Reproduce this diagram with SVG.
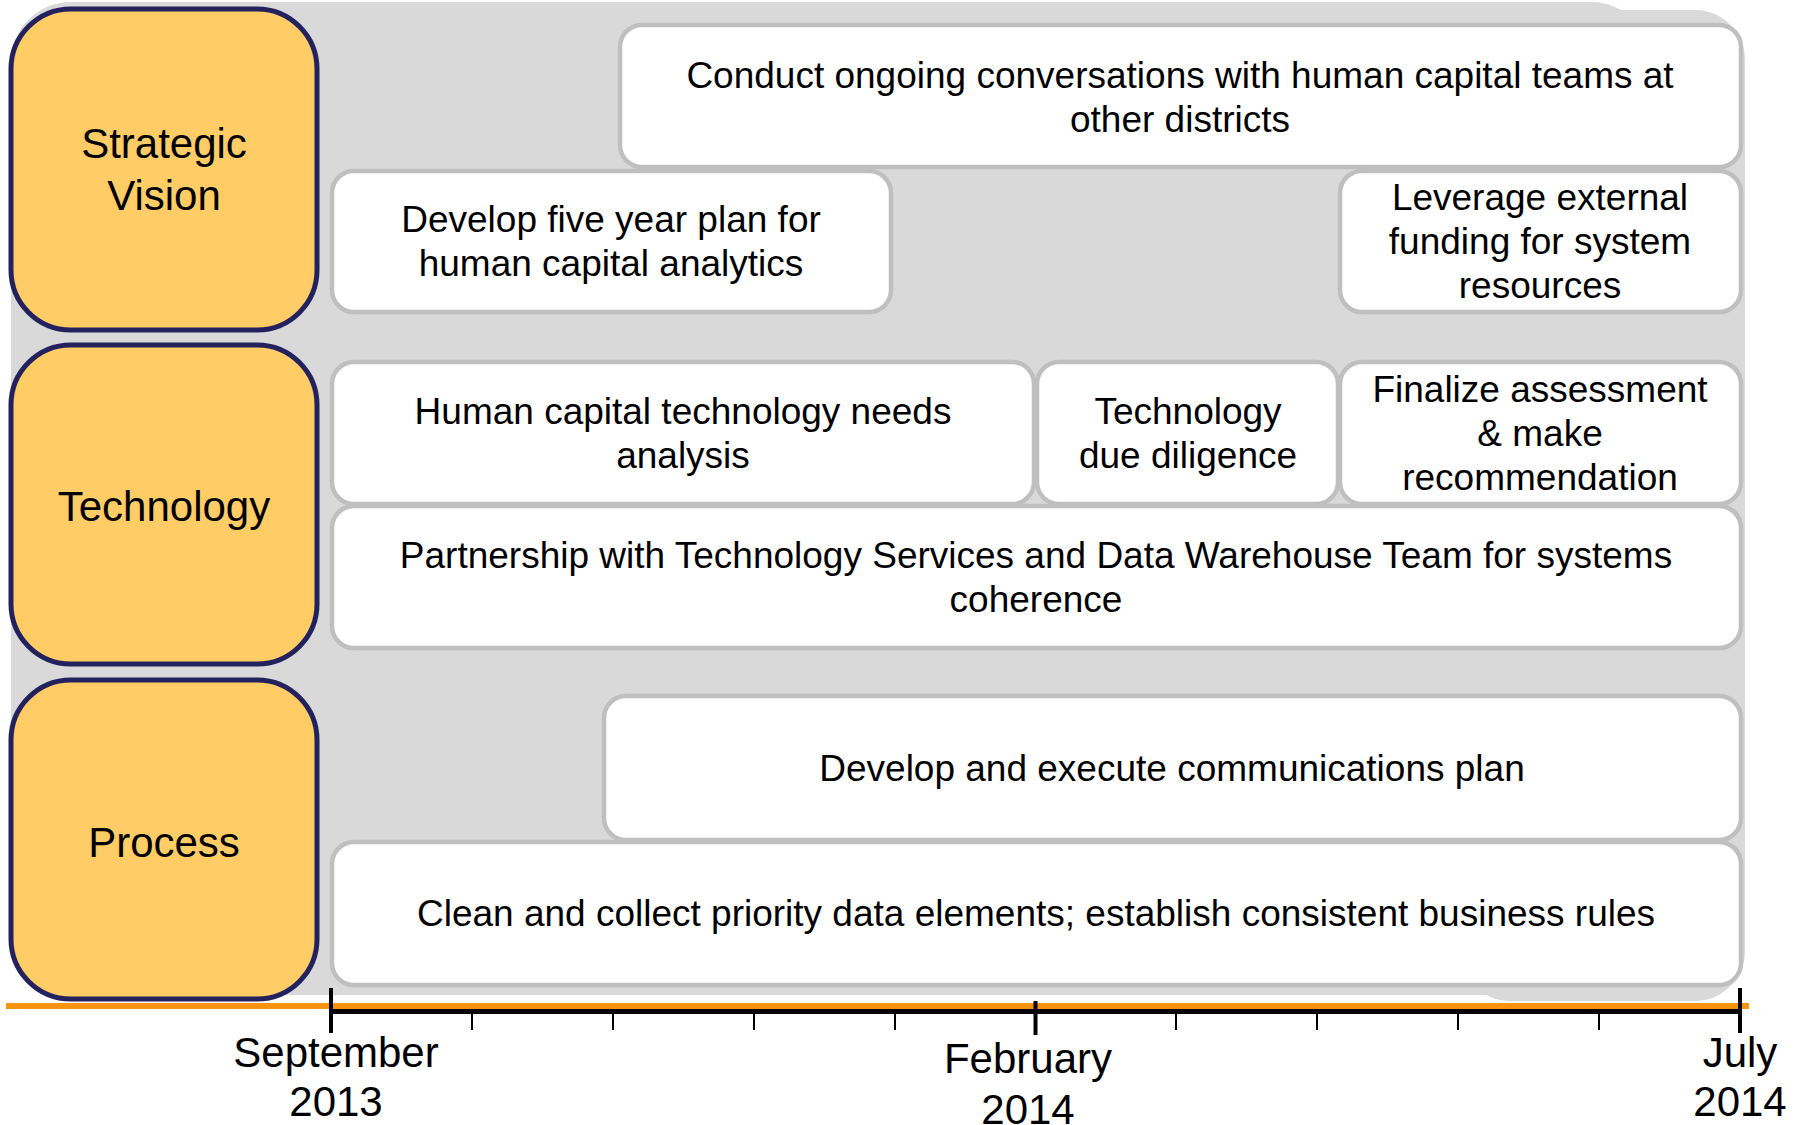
<svg xmlns="http://www.w3.org/2000/svg" width="1796" height="1125" viewBox="0 0 1796 1125">
<style>
.cat{fill:#FFCC66;stroke:#24225E;stroke-width:5}
.task{fill:#FFFFFF;stroke:#BFBFBF;stroke-width:4.5}
.ct{font-family:"Liberation Sans",Arial,sans-serif;font-size:42px;fill:#000;text-anchor:middle}
.tt{font-family:"Liberation Sans",Arial,sans-serif;font-size:37px;fill:#000;text-anchor:middle}
.lbl{font-family:"Liberation Sans",Arial,sans-serif;font-size:42px;fill:#000;text-anchor:middle}
.maj{stroke:#000;stroke-width:4}
.min{stroke:#000;stroke-width:2}
</style>
<rect width="1796" height="1125" fill="#FFFFFF"/>
<g id="background">
<rect x="11" y="2" width="1640" height="993" rx="60" fill="#D9D9D9"/>
<rect x="1460" y="10" width="285" height="991" rx="50" fill="#D9D9D9"/>
</g>
<g id="cat-strategic">
<rect class="cat" x="11" y="9" width="306" height="321" rx="60"/>
<text class="ct" x="164" y="158">Strategic</text>
<text class="ct" x="164" y="210">Vision</text>
</g>
<g id="cat-technology">
<rect class="cat" x="11" y="345" width="306" height="319" rx="60"/>
<text class="ct" x="164" y="521">Technology</text>
</g>
<g id="cat-process">
<rect class="cat" x="11" y="680" width="306" height="319" rx="60"/>
<text class="ct" x="164" y="857">Process</text>
</g>
<g id="task-conduct">
<rect class="task" x="620" y="25" width="1121" height="142" rx="22"/>
<text class="tt" x="1180" y="88">Conduct ongoing conversations with human capital teams at</text>
<text class="tt" x="1180" y="132">other districts</text>
</g>
<g id="task-fiveyear">
<rect class="task" x="332" y="171" width="559" height="141" rx="22"/>
<text class="tt" x="611" y="232">Develop five year plan for</text>
<text class="tt" x="611" y="276">human capital analytics</text>
</g>
<g id="task-leverage">
<rect class="task" x="1340" y="171" width="401" height="141" rx="22"/>
<text class="tt" x="1540" y="210">Leverage external</text>
<text class="tt" x="1540" y="254">funding for system</text>
<text class="tt" x="1540" y="298">resources</text>
</g>
<g id="task-needs">
<rect class="task" x="332" y="362" width="702" height="142" rx="22"/>
<text class="tt" x="683" y="424">Human capital technology needs</text>
<text class="tt" x="683" y="468">analysis</text>
</g>
<g id="task-duediligence">
<rect class="task" x="1037" y="362" width="301" height="142" rx="22"/>
<text class="tt" x="1188" y="424">Technology</text>
<text class="tt" x="1188" y="468">due diligence</text>
</g>
<g id="task-finalize">
<rect class="task" x="1340" y="362" width="401" height="142" rx="22"/>
<text class="tt" x="1540" y="402">Finalize assessment</text>
<text class="tt" x="1540" y="446">&amp; make</text>
<text class="tt" x="1540" y="490">recommendation</text>
</g>
<g id="task-partnership">
<rect class="task" x="332" y="506" width="1409" height="142" rx="22"/>
<text class="tt" x="1036" y="568">Partnership with Technology Services and Data Warehouse Team for systems</text>
<text class="tt" x="1036" y="612">coherence</text>
</g>
<g id="task-communications">
<rect class="task" x="604" y="696" width="1137" height="144" rx="22"/>
<text class="tt" x="1172" y="781">Develop and execute communications plan</text>
</g>
<g id="task-clean">
<rect class="task" x="332" y="842" width="1409" height="143" rx="22"/>
<text class="tt" x="1036" y="926">Clean and collect priority data elements; establish consistent business rules</text>
</g>
<g id="timeline">
<line x1="6" y1="1006" x2="1749" y2="1006" stroke="#F7930E" stroke-width="6"/>
<line x1="330" y1="1011.5" x2="1741" y2="1011.5" stroke="#000" stroke-width="5"/>
<line class="maj" x1="331" y1="988" x2="331" y2="1033"/>
<line class="maj" x1="1035.5" y1="1001" x2="1035.5" y2="1035"/>
<line class="maj" x1="1740" y1="988" x2="1740" y2="1033"/>
<line class="min" x1="472" y1="1012" x2="472" y2="1030"/>
<line class="min" x1="613" y1="1012" x2="613" y2="1030"/>
<line class="min" x1="754" y1="1012" x2="754" y2="1030"/>
<line class="min" x1="895" y1="1012" x2="895" y2="1030"/>
<line class="min" x1="1176" y1="1012" x2="1176" y2="1030"/>
<line class="min" x1="1317" y1="1012" x2="1317" y2="1030"/>
<line class="min" x1="1458" y1="1012" x2="1458" y2="1030"/>
<line class="min" x1="1599" y1="1012" x2="1599" y2="1030"/>
<text class="lbl" x="336" y="1067">September</text>
<text class="lbl" x="336" y="1116">2013</text>
<text class="lbl" x="1028" y="1073">February</text>
<text class="lbl" x="1028" y="1124">2014</text>
<text class="lbl" x="1740" y="1067">July</text>
<text class="lbl" x="1740" y="1116">2014</text>
</g>
</svg>
